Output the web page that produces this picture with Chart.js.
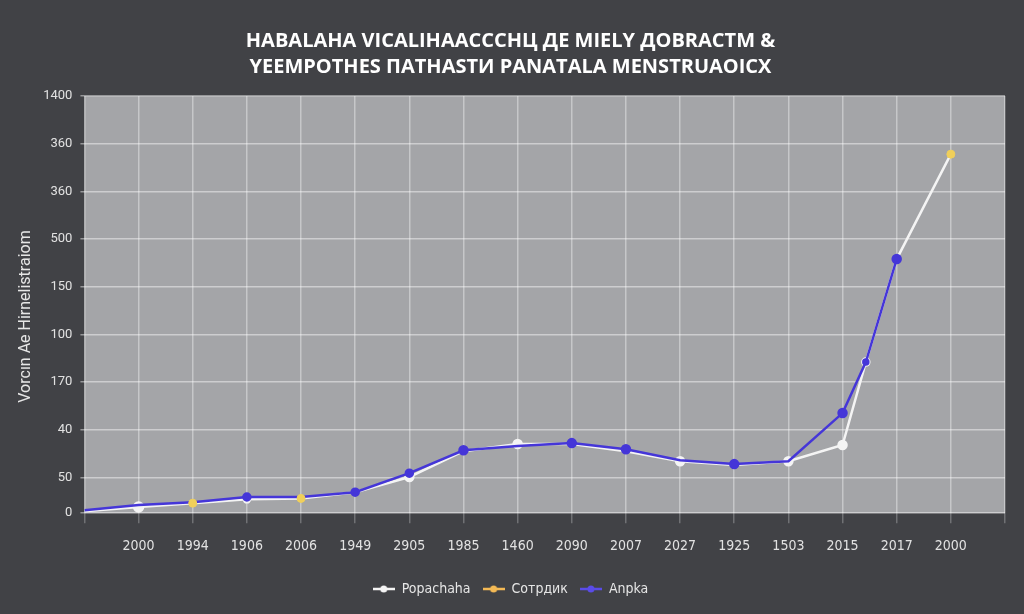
<!DOCTYPE html>
<html>
<head>
<meta charset="utf-8">
<script src="https://cdn.jsdelivr.net/npm/chart.js@4.4.1/dist/chart.umd.min.js"></script>
<style>
html, body { margin: 0; padding: 0; background: #414246; }
#wrap { width: 1024px; height: 614px; }
</style>
</head>
<body>
<div id="wrap"><canvas id="chart"></canvas></div>
<script>
// Données
const titleLines = ['HABALAHA VICALIHAACCCHЦ ДЕ MIELY ДОBRACTM &', 'YEEMPOTHES ПATHASTИ PANATALA MENSTRUAOICX'];
const yTitle = 'Vorcın Ae Hirnelistraiom';
const xLabels = ['', '2000', '1994', '1906', '2006', '1949', '2905', '1985', '1460', '2090', '2007', '2027', '1925', '1503', '2015', '2017', '2000', ''];
const yTickLabels = ['0', '50', '40', '170', '100', '150', '500', '360', '360', '1400'];
const yTickValues = [0, 0.75, 1.75, 2.75, 3.75, 4.75, 5.75, 6.75, 7.75, 8.75];
const seriesNames = ['Popachaha', 'Сотрдик', 'Anpka'];

const whiteX = [0, 1, 2, 3, 4, 5, 6, 7, 8, 9, 10, 11, 12, 13, 14, 14.43, 15, 16];
const whiteY = [0.04, 0.13, 0.21, 0.29, 0.31, 0.44, 0.76, 1.30, 1.45, 1.45, 1.30, 1.09, 1.01, 1.09, 1.43, 3.17, 5.33, 7.53];

const yellowX = [2, 4, 16];
const yellowY = [0.21, 0.31, 7.53];

const blueX = [0, 1, 2, 3, 4, 5, 6, 7, 8, 9, 10, 11, 12, 13, 14, 14.43, 15];
const blueY = [0.06, 0.17, 0.23, 0.34, 0.34, 0.44, 0.84, 1.32, 1.41, 1.47, 1.34, 1.11, 1.03, 1.09, 2.10, 3.17, 5.33];

const toPoints = (xs, ys) => xs.map((x, i) => ({ x: x, y: ys[i] }));

// Petite icône de légende : trait + point
function legendIcon(color) {
const c = document.createElement('canvas');
c.width = 22; c.height = 10;
const g = c.getContext('2d');
g.strokeStyle = color;
g.lineWidth = 2.5;
g.beginPath(); g.moveTo(0, 5); g.lineTo(22, 5); g.stroke();
g.fillStyle = color;
g.beginPath(); g.arc(11, 5, 3.5, 0, Math.PI * 2); g.fill();
return c;
}

// Fond sombre + zone de tracé grise
const plotBg = {
id: 'plotBg',
beforeDraw(chart) {
const { ctx, chartArea: a } = chart;
ctx.save();
ctx.fillStyle = '#414246';
ctx.fillRect(0, 0, chart.width, chart.height);
ctx.fillStyle = '#a4a5a8';
ctx.fillRect(a.left, a.top, a.width, a.height);
ctx.restore();
}
};

const WHITE = '#f4f4f4';
const YELLOW = '#f0cf5a';
const BLUE = '#4536d8';

let config = {
type: 'line',
data: {
datasets: [{
label: seriesNames[0],
data: toPoints(whiteX, whiteY),
borderColor: WHITE,
backgroundColor: WHITE,
pointBackgroundColor: WHITE,
pointBorderColor: WHITE,
borderWidth: 2.5,
pointRadius: [0, 4.5, 0, 3, 0, 0, 4, 0, 4, 0, 0, 4, 0, 4, 4, 3.5, 0, 0],
tension: 0,
order: 3,
legendColor: WHITE
}, {
label: seriesNames[1],
data: toPoints(yellowX, yellowY),
borderColor: YELLOW,
backgroundColor: YELLOW,
pointBackgroundColor: YELLOW,
pointBorderColor: YELLOW,
showLine: false,
pointRadius: 4,
order: 1,
legendColor: '#f3b955'
}, {
label: seriesNames[2],
data: toPoints(blueX, blueY),
borderColor: BLUE,
backgroundColor: BLUE,
pointBackgroundColor: BLUE,
pointBorderColor: BLUE,
borderWidth: 2.5,
pointRadius: [0, 0, 0, 3.5, 0, 3.5, 3.5, 4, 0, 4, 4, 0, 4, 0, 4, 2.5, 4],
tension: 0,
order: 2,
legendColor: '#5a4ce8'
}]
},
options: {
responsive: true,
maintainAspectRatio: false,
animation: false,
layout: { padding: { left: 16, right: 19, top: 28, bottom: 8 } },
scales: {
x: {
type: 'linear',
min: 0,
max: xLabels.length - 1,
afterBuildTicks: axis => { axis.ticks = xLabels.map((_, i) => ({ value: i })); },
ticks: {
autoSkip: false,
maxRotation: 0,
padding: 15,
color: '#e2e2e2',
font: { family: "'Liberation Sans Narrow', 'DejaVu Sans Condensed', Roboto, sans-serif", size: 14 },
callback: v => xLabels[v] || ''
},
grid: { color: 'rgba(255, 255, 255, 0.38)', lineWidth: 1.5, tickLength: 10, tickColor: 'rgba(255, 255, 255, 0.25)' },
border: { display: false }
},
y: {
type: 'linear',
min: 0,
max: yTickValues[yTickValues.length - 1],
afterBuildTicks: axis => { axis.ticks = yTickValues.map(v => ({ value: v })); },
ticks: {
padding: 8,
color: '#e2e2e2',
font: { family: 'Roboto, sans-serif', size: 13 },
callback: (v, i) => yTickLabels[i]
},
title: {
display: true,
// espaces insécables pour descendre un peu le titre comme sur l'image
text: yTitle + '\u00a0'.repeat(6),
color: '#e6e6e6',
font: { family: 'Roboto, sans-serif', size: 16 },
padding: { top: 0, bottom: 0 }
},
grid: { color: 'rgba(255, 255, 255, 0.45)', lineWidth: 1.5, tickLength: 4 },
border: { display: false }
}
},
plugins: {
title: {
display: true,
text: titleLines,
color: '#ffffff',
font: { family: "'Open Sans', sans-serif", size: 20, weight: 'bold', lineHeight: 1.3 },
padding: { top: 0, bottom: 16 }
},
legend: {
display: true,
position: 'bottom',
labels: {
usePointStyle: true,
pointStyleWidth: 22,
boxHeight: 10,
padding: 12,
color: '#e6e6e6',
font: { family: "'Liberation Sans Narrow', 'DejaVu Sans Condensed', Roboto, sans-serif", size: 14 },
generateLabels: chart => chart.data.datasets.map((ds, i) => ({
text: ds.label,
pointStyle: legendIcon(ds.legendColor),
fillStyle: ds.legendColor,
strokeStyle: ds.legendColor,
lineWidth: 0,
fontColor: '#e6e6e6',
hidden: !chart.isDatasetVisible(i),
datasetIndex: i
}))
}
},
tooltip: { enabled: false }
}
},
plugins: [plotBg]
};

let chart = new Chart(document.getElementById('chart').getContext('2d'), config);
</script>
</body>
</html>
